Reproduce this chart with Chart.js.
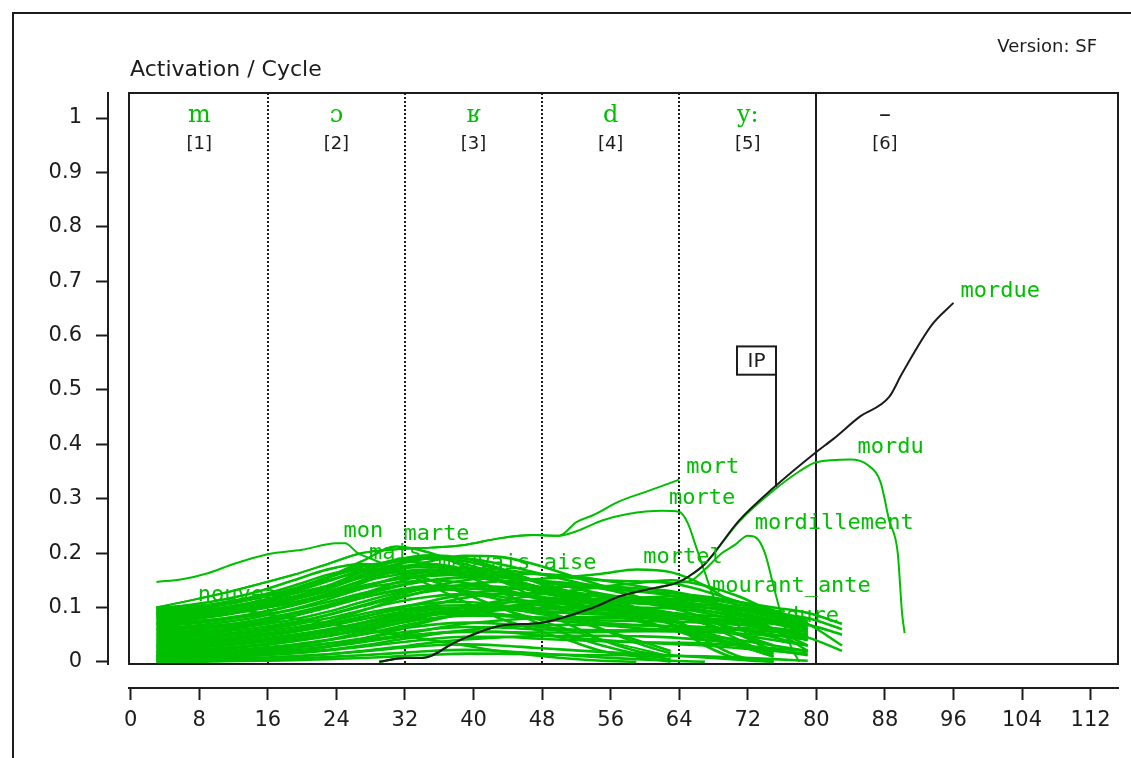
<!DOCTYPE html>
<html><head><meta charset="utf-8">
<script src="https://cdn.jsdelivr.net/npm/chart.js@4.4.0/dist/chart.umd.min.js"></script>
<style>html,body{margin:0;padding:0;background:#fff;}canvas{display:block;}</style>
</head><body>
<canvas id="c" width="1131" height="758"></canvas>
<script>
// ---------- text ----------
const axisTitle = 'Activation / Cycle';
const versionText = 'Version: SF';
const phonemes = ['m', 'ɔ', 'ʁ', 'd', 'y:', '–'];
const phonemeSlots = ['[1]', '[2]', '[3]', '[4]', '[5]', '[6]'];
const phonemeCenters = [8, 24, 40, 56, 72, 88];
const phonemeBounds = [16, 32, 48, 64, 80];
const boundDotted = [true, true, true, true, false];
const xTicks = [0, 8, 16, 24, 32, 40, 48, 56, 64, 72, 80, 88, 96, 104, 112];
const xTickLabels = ['0','8','16','24','32','40','48','56','64','72','80','88','96','104','112'];
const yTicks = [0, 0.1, 0.2, 0.3, 0.4, 0.5, 0.6, 0.7, 0.8, 0.9, 1];
const yTickLabels = ['0','0.1','0.2','0.3','0.4','0.5','0.6','0.7','0.8','0.9','1'];
// IP marker
const ipCycle = 75.3, ipBoxTop = 0.58, ipBoxBottom = 0.528, ipLineEnd = 0.322;

// ---------- shared cycles for the competitor mass ----------
const cycles = [3, 7, 11, 15, 19, 23, 27, 31, 35, 39, 43, 47, 51, 55, 59, 63, 67, 71, 75, 79, 83];

const a1 = [0.098,0.105,0.115,0.13,0.15,0.17,0.18,0.17,0.14,0.11,0.08,0.06,0.04,0.02,0.01,0];
const a2 = [0.095,0.1,0.11,0.122,0.14,0.16,0.175,0.185,0.18,0.16,0.13,0.1,0.07,0.04,0.02,0.01];
const a3 = [0.092,0.098,0.105,0.118,0.132,0.15,0.165,0.175,0.178,0.17,0.16,0.15,0.14,0.12,0.1,0.08,0.05,0.03,0.01];
const a4 = [0.09,0.095,0.1,0.11,0.125,0.14,0.155,0.165,0.17,0.165,0.158,0.15,0.145,0.14,0.135,0.13,0.115,0.09,0.06,0.03];
const a5 = [0.087,0.09,0.097,0.107,0.12,0.138,0.16,0.178,0.19,0.185,0.17,0.15,0.125,0.1,0.08,0.06,0.04];
const a6 = [0.085,0.088,0.094,0.103,0.115,0.13,0.148,0.16,0.168,0.172,0.17,0.162,0.155,0.15,0.148,0.145,0.13,0.11,0.09,0.07];
const a7 = [0.082,0.086,0.09,0.1,0.11,0.125,0.14,0.152,0.158,0.16,0.156,0.15,0.142,0.135,0.13,0.126,0.12,0.11,0.1,0.09,0.07];
const a8 = [0.08,0.083,0.088,0.097,0.108,0.12,0.135,0.145,0.15,0.145,0.135,0.12,0.108,0.1,0.095,0.09,0.085,0.08,0.07,0.055];
const b1 = [0.065,0.07,0.078,0.09,0.105,0.125,0.15,0.17,0.175,0.16,0.13,0.1,0.08,0.06,0.04,0.02];
const b2 = [0.062,0.066,0.073,0.083,0.097,0.115,0.135,0.155,0.165,0.16,0.15,0.14,0.13,0.12,0.11,0.1,0.09,0.075,0.06];
const b3 = [0.058,0.062,0.068,0.078,0.09,0.105,0.122,0.138,0.15,0.155,0.15,0.14,0.125,0.11,0.1,0.09,0.075,0.06,0.045,0.03];
const b4 = [0.055,0.058,0.064,0.073,0.085,0.1,0.118,0.132,0.14,0.14,0.13,0.118,0.105,0.1,0.098,0.1,0.105,0.1,0.09,0.08];
const b5 = [0.052,0.055,0.06,0.068,0.078,0.092,0.11,0.126,0.136,0.14,0.138,0.132,0.125,0.12,0.118,0.115,0.11,0.1,0.085,0.07];
const b6 = [0.048,0.051,0.056,0.063,0.073,0.086,0.102,0.118,0.13,0.135,0.13,0.12,0.105,0.09,0.075,0.06,0.045,0.03,0.015];
const b7 = [0.045,0.048,0.052,0.059,0.068,0.08,0.095,0.11,0.12,0.125,0.125,0.12,0.115,0.11,0.108,0.105,0.1,0.095,0.088,0.08,0.06];
const b8 = [0.042,0.045,0.049,0.055,0.063,0.074,0.088,0.1,0.108,0.11,0.105,0.095,0.09,0.088,0.087,0.085,0.08,0.07,0.06,0.05];
const b9 = [0.038,0.041,0.045,0.051,0.059,0.07,0.083,0.095,0.102,0.104,0.1,0.09,0.08,0.072,0.068,0.065,0.06,0.05,0.04,0.03];
const b10 = [0.035,0.038,0.042,0.048,0.056,0.066,0.078,0.09,0.098,0.1,0.097,0.093,0.09,0.087,0.085,0.083,0.08,0.075,0.07,0.065];
const c1 = [0.028,0.03,0.034,0.04,0.048,0.058,0.07,0.082,0.09,0.092,0.088,0.082,0.078,0.076,0.075,0.074,0.072,0.068,0.062,0.055];
const c2 = [0.024,0.026,0.03,0.036,0.044,0.054,0.066,0.078,0.086,0.088,0.085,0.08,0.074,0.068,0.062,0.058,0.05,0.04,0.03,0.02];
const c3 = [0.02,0.022,0.026,0.031,0.038,0.047,0.058,0.07,0.08,0.085,0.085,0.082,0.08,0.08,0.08,0.079,0.078,0.076,0.072,0.068,0.05];
const c4 = [0.016,0.018,0.021,0.026,0.032,0.04,0.05,0.06,0.068,0.072,0.07,0.065,0.06,0.058,0.057,0.056,0.055,0.052,0.048,0.045];
const c5 = [0.012,0.014,0.017,0.021,0.027,0.034,0.043,0.053,0.06,0.064,0.063,0.06,0.058,0.057,0.058,0.06,0.062,0.06,0.055,0.05];
const c6 = [0.008,0.01,0.013,0.017,0.022,0.028,0.036,0.045,0.052,0.056,0.055,0.05,0.045,0.04,0.036,0.033,0.03,0.025,0.02,0.015];
const c7 = [0.005,0.007,0.009,0.012,0.016,0.021,0.028,0.035,0.042,0.046,0.046,0.043,0.04,0.038,0.036,0.035,0.034,0.03,0.025,0.02];
const c8 = [0.002,0.003,0.005,0.007,0.01,0.014,0.019,0.025,0.03,0.032,0.03,0.026,0.022,0.018,0.015,0.012,0.008,0.004,0.001];
const c9 = [0.001,0.002,0.003,0.004,0.006,0.009,0.012,0.016,0.02,0.022,0.02,0.016,0.012,0.008,0.005,0.002,0];
const c10 = [0,0,0.001,0.002,0.003,0.005,0.007,0.01,0.013,0.015,0.015,0.014,0.013,0.012,0.012,0.011,0.01,0.008,0.005,0.002];
const d1 = [0.01,0.012,0.015,0.02,0.028,0.04,0.055,0.07,0.085,0.1,0.112,0.122,0.13,0.138,0.145,0.15,0.14,0.12,0.09,0.06];
const d2 = [0.005,0.006,0.008,0.012,0.018,0.028,0.042,0.058,0.075,0.09,0.1,0.108,0.112,0.116,0.118,0.12,0.115,0.105,0.09,0.075];
const e3 = [0.075,0.08,0.088,0.1,0.116,0.135,0.158,0.18,0.19,0.19,0.18,0.165,0.15,0.135,0.12,0.1,0.08,0.05,0.02];
const e4 = [0.07,0.073,0.08,0.09,0.104,0.122,0.145,0.168,0.185,0.195,0.193,0.18,0.16,0.14,0.12,0.1];
const f1 = [0.03,0.032,0.036,0.042,0.05,0.06,0.072,0.085,0.095,0.1,0.1,0.098,0.095,0.09,0.085,0.07,0.03,0.005,0];
const f2 = [0.06,0.063,0.068,0.076,0.088,0.102,0.118,0.13,0.135,0.13,0.12,0.11,0.1,0.095,0.09,0.08,0.04,0.01,0];
const g1 = [0.1,0.102,0.108,0.118,0.135,0.155,0.17,0.165,0.15,0.13,0.115,0.105,0.1,0.098,0.095,0.09,0.07,0.04,0.01];
const g2 = [0.072,0.078,0.086,0.098,0.114,0.134,0.156,0.174,0.18,0.17,0.15,0.13,0.118,0.112,0.108,0.104,0.095,0.08,0.06,0.04];
const g3 = [0.068,0.072,0.078,0.086,0.096,0.11,0.126,0.14,0.15,0.156,0.16,0.162,0.158,0.15,0.14,0.128,0.11,0.09,0.07];
const g4 = [0.04,0.044,0.05,0.058,0.07,0.086,0.104,0.122,0.138,0.15,0.155,0.15,0.138,0.125,0.115,0.108,0.1,0.09,0.078,0.065];
const g5 = [0.033,0.036,0.04,0.046,0.055,0.067,0.082,0.098,0.112,0.124,0.132,0.136,0.138,0.136,0.13,0.122,0.11,0.098,0.085,0.07];
const g6 = [0.026,0.028,0.032,0.038,0.046,0.057,0.072,0.088,0.104,0.118,0.125,0.126,0.124,0.12,0.116,0.112,0.105,0.095,0.082,0.068];
const g7 = [0.018,0.02,0.024,0.03,0.038,0.048,0.06,0.075,0.09,0.1,0.108,0.112,0.114,0.112,0.11,0.108,0.1,0.088,0.074,0.06];
const g8 = [0.014,0.016,0.019,0.024,0.031,0.04,0.051,0.064,0.077,0.088,0.095,0.098,0.1,0.1,0.1,0.098,0.094,0.085,0.072,0.058];
const g9 = [0.01,0.011,0.013,0.016,0.021,0.028,0.037,0.048,0.06,0.07,0.076,0.08,0.082,0.083,0.083,0.082,0.078,0.07,0.06,0.048];
const g10 = [0.006,0.007,0.009,0.012,0.016,0.022,0.03,0.04,0.05,0.058,0.064,0.067,0.068,0.068,0.067,0.066,0.064,0.058,0.05,0.04];
const g11 = [0.003,0.004,0.005,0.007,0.01,0.014,0.02,0.027,0.035,0.041,0.045,0.047,0.048,0.048,0.047,0.045,0.04,0.032,0.022,0.012];
const g12 = [0.078,0.082,0.09,0.102,0.118,0.14,0.165,0.185,0.192,0.18,0.16,0.14,0.12,0.1,0.085,0.07,0.05,0.03,0.01];
const g13 = [0.05,0.054,0.06,0.07,0.084,0.102,0.124,0.146,0.162,0.17,0.165,0.15,0.13,0.11,0.095,0.085,0.07,0.05,0.03];
const g14 = [0.088,0.092,0.1,0.112,0.128,0.148,0.17,0.188,0.196,0.19,0.172,0.148,0.125,0.108,0.095,0.085,0.07,0.05,0.03];

// labelled words on the shared cycles
const nouveau = [0.096,0.1,0.098,0.09,0.08,0.07,0.06,0.05,0.04,0.03,0.02,0.012,0.006,0.002,0];
const mais = [0.09,0.094,0.1,0.112,0.13,0.155,0.178,0.17,0.15,0.125,0.1,0.075,0.05,0.03,0.015,0.005];
const marte = [0.085,0.09,0.098,0.11,0.13,0.155,0.185,0.212,0.2,0.175,0.15,0.12,0.09,0.06,0.035,0.015];
const mauvaisAise = [0.07,0.074,0.08,0.09,0.104,0.12,0.138,0.152,0.16,0.158,0.148,0.135,0.12,0.105,0.09,0.075,0.055,0.035,0.015];
const mortel = [0.03,0.033,0.038,0.046,0.058,0.074,0.094,0.115,0.132,0.142,0.148,0.152,0.156,0.162,0.17,0.165,0.14,0.1,0.06,0.02];
const mourantAnte = [0.02,0.022,0.026,0.032,0.04,0.05,0.062,0.075,0.086,0.095,0.1,0.104,0.108,0.11,0.113,0.115,0.117,0.11,0.095,0.07,0.03];
const mordure = [0.01,0.012,0.015,0.02,0.026,0.033,0.04,0.047,0.052,0.055,0.055,0.054,0.054,0.055,0.056,0.058,0.06,0.062,0.058,0.045,0.02];

// main words with their own cycles
const monCycles = [3,6,9,12,16,20,24,25,26.5,28,31,35,39,43,47,51,55,59,63];
const monAct = [0.147,0.152,0.163,0.18,0.198,0.206,0.218,0.218,0.2,0.19,0.17,0.15,0.125,0.1,0.08,0.06,0.04,0.025,0.01];
const mortCycles = [3,7,11,15,19,23,27,31,35,39,43,47,50,52,54,57,60,64];
const mortAct = [0.1,0.113,0.127,0.143,0.16,0.18,0.2,0.207,0.21,0.215,0.227,0.233,0.232,0.257,0.27,0.295,0.312,0.335];
const morteCycles = [3,7,11,15,19,23,27,31,35,39,43,47,50,52,55,58,62,64,65,66,67,68,70,72,74];
const morteAct = [0.1,0.113,0.127,0.143,0.16,0.18,0.2,0.207,0.21,0.215,0.227,0.233,0.232,0.24,0.26,0.272,0.278,0.276,0.255,0.21,0.164,0.12,0.08,0.05,0.02];
const mordillementCycles = [29,32,34,38,43,48,54,57,60,64,65.5,67,69,70.5,72,73,74,75,76,77,78];
const mordillementAct = [0,0.007,0.007,0.037,0.066,0.072,0.1,0.12,0.132,0.145,0.15,0.17,0.2,0.215,0.232,0.228,0.2,0.14,0.08,0.03,0];
const morduCycles = [29,32,34,38,43,48,54,57,60,64,65,67,71,75,78,80,84,86,87.5,88.5,89.5,90,90.3];
const morduAct = [0,0.007,0.007,0.037,0.066,0.072,0.1,0.12,0.132,0.147,0.156,0.18,0.258,0.315,0.35,0.367,0.372,0.362,0.33,0.26,0.2,0.09,0.053];
const mordueCycles = [29,32,34,38,43,48,54,57,60,64,65,67,71,75,80,82,85,88.5,90,93.5,96];
const mordueAct = [0,0.007,0.007,0.037,0.066,0.072,0.1,0.12,0.132,0.147,0.156,0.18,0.26,0.32,0.386,0.41,0.45,0.487,0.53,0.62,0.66];

const massSeries = [a1,a2,a3,a4,a5,a6,a7,a8,b1,b2,b3,b4,b5,b6,b7,b8,b9,b10,c1,c2,c3,c4,c5,c6,c7,c8,c9,c10,d1,d2,e3,e4,f1,f2,
  g1,g2,g3,g4,g5,g6,g7,g8,g9,g10,g11,g12,g13,g14];
const sharedLabelled = [
  ['nouveau', nouveau], ['mais', mais], ['marte', marte], ['mauvais_aise', mauvaisAise],
  ['mortel', mortel], ['mourant_ante', mourantAnte], ['mordure', mordure]
];
const ownLabelled = [
  ['mon', monCycles, monAct], ['mort', mortCycles, mortAct], ['morte', morteCycles, morteAct],
  ['mordillement', mordillementCycles, mordillementAct], ['mordu', morduCycles, morduAct]
];

const GREEN = 'rgb(0,190,0)';
const INK = '#1c1c1c';

function pts(xs, ys) {
  const out = [];
  ys.forEach((v, i) => { if (v !== null && v !== undefined) out.push({x: xs[i], y: v}); });
  return out;
}
function ds(data, color, label, showLabel, order, width) {
  return { data, label, showLabel, borderColor: color, borderWidth: width, pointRadius: 0,
    cubicInterpolationMode: 'monotone', fill: false, xAxisID: 'x', yAxisID: 'y', order };
}

const datasets = [];
datasets.push(ds(pts(mordueCycles, mordueAct), INK, 'mordue', true, -1, 2));
ownLabelled.forEach(([w, xs, ys]) => datasets.push(ds(pts(xs, ys), GREEN, w, true, 1, 2)));
sharedLabelled.forEach(([w, ys]) => datasets.push(ds(pts(cycles, ys), GREEN, w, true, 2, 2.5)));
massSeries.forEach((ys, i) => datasets.push(ds(pts(cycles, ys), GREEN, 'w' + i, false, 3, 2.6)));

const overlay = {
  id: 'overlay',
  beforeDraw(chart) {
    const ctx = chart.ctx;
    ctx.save();
    ctx.fillStyle = '#fff';
    ctx.fillRect(0, 0, chart.width, chart.height);
    ctx.strokeStyle = INK; ctx.lineWidth = 2;
    ctx.beginPath(); ctx.moveTo(13, chart.height); ctx.lineTo(13, 13); ctx.lineTo(chart.width, 13); ctx.stroke();
    ctx.fillStyle = INK; ctx.textAlign = 'left'; ctx.textBaseline = 'alphabetic';
    ctx.font = '22px "DejaVu Sans"';
    ctx.fillText(axisTitle, 130, 76);
    ctx.font = '18px "DejaVu Sans"'; ctx.textAlign = 'right';
    ctx.fillText(versionText, 1097, 52);
    ctx.restore();
  },
  beforeDatasetsDraw(chart) {
    const {ctx, chartArea: a, scales: {x}} = chart;
    ctx.save();
    ctx.strokeStyle = INK; ctx.lineWidth = 2;
    phonemeBounds.forEach((b, i) => {
      const px = Math.round(x.getPixelForValue(b));
      ctx.setLineDash(boundDotted[i] ? [2, 2] : []);
      ctx.beginPath(); ctx.moveTo(px, a.top); ctx.lineTo(px, a.bottom); ctx.stroke();
    });
    ctx.restore();
  },
  afterDatasetsDraw(chart) {
    const {ctx, chartArea: a, scales: {x, y}} = chart;
    ctx.save();
    // word labels at each labelled word's peak
    ctx.font = '22px "DejaVu Sans Mono"';
    ctx.textAlign = 'left'; ctx.textBaseline = 'middle';
    chart.data.datasets.forEach((d, di) => {
      if (!d.showLabel) return;
      let best = 0;
      d.data.forEach((p, i) => { if (p.y > d.data[best].y) best = i; });
      const el = chart.getDatasetMeta(di).data[best];
      ctx.fillStyle = GREEN;
      ctx.fillText(d.label, el.x + 7, el.y - 12);
    });
    // phoneme header
    const rowY = y.getPixelForValue(1);
    phonemes.forEach((p, i) => {
      const px = x.getPixelForValue(phonemeCenters[i]);
      ctx.textAlign = 'center'; ctx.textBaseline = 'middle';
      ctx.fillStyle = (p === '–') ? INK : GREEN;
      ctx.font = (p === '–') ? '24px "DejaVu Sans"' : '24px "DejaVu Serif"';
      ctx.fillText(p, px, rowY - 2);
      ctx.fillStyle = INK; ctx.font = '18px "DejaVu Sans"';
      ctx.fillText(phonemeSlots[i], px, rowY + 26);
    });
    // IP marker
    const ix = Math.round(x.getPixelForValue(ipCycle));
    const bt = y.getPixelForValue(ipBoxTop), bb = y.getPixelForValue(ipBoxBottom), le = y.getPixelForValue(ipLineEnd);
    ctx.strokeStyle = INK; ctx.lineWidth = 2;
    ctx.fillStyle = '#fff'; ctx.fillRect(ix - 39, bt, 39, bb - bt);
    ctx.strokeRect(ix - 39, bt, 39, bb - bt);
    ctx.beginPath(); ctx.moveTo(ix, bb); ctx.lineTo(ix, le); ctx.stroke();
    ctx.fillStyle = INK; ctx.font = '20px "DejaVu Sans"'; ctx.textAlign = 'center'; ctx.textBaseline = 'middle';
    ctx.fillText('IP', ix - 19.5, (bt + bb) / 2 + 1);
    // plot frame
    ctx.strokeStyle = INK; ctx.lineWidth = 2;
    ctx.strokeRect(a.left, a.top, a.right - a.left, a.bottom - a.top);
    ctx.restore();
  }
};

new Chart(document.getElementById('c'), {
  type: 'line',
  data: { datasets },
  options: {
    responsive: false, animation: false, devicePixelRatio: 1,
    layout: { padding: { left: 12, top: 93, right: 13, bottom: 0 } },
    plugins: { legend: { display: false }, tooltip: { enabled: false }, title: { display: false } },
    scales: {
      x: {
        type: 'linear', position: 'bottom', weight: 1, min: -0.2, max: 115.2,
        afterBuildTicks: s => { s.ticks = xTicks.map(v => ({ value: v })); },
        afterFit: s => { s.height = 70; },
        ticks: { color: INK, font: { family: 'DejaVu Sans', size: 21 }, padding: 8, maxRotation: 0, autoSkip: false,
          callback: (v, i) => xTickLabels[i] },
        grid: { drawOnChartArea: false, drawTicks: true, tickLength: 12, tickColor: INK, tickWidth: 2, color: INK },
        border: { display: true, color: INK, width: 2 }
      },
      xSpacer: {
        type: 'linear', position: 'bottom', weight: 0,
        ticks: { display: false }, grid: { display: false }, border: { display: false },
        afterFit: s => { s.height = 24; }
      },
      y: {
        type: 'linear', position: 'left', weight: 1, min: -0.004, max: 1.046,
        afterBuildTicks: s => { s.ticks = yTicks.map(v => ({ value: v })); },
        afterFit: s => { s.width = 96; },
        ticks: { color: INK, font: { family: 'DejaVu Sans', size: 21 }, padding: 14,
          callback: (v, i) => yTickLabels[i] },
        grid: { drawOnChartArea: false, drawTicks: true, tickLength: 12, tickColor: INK, tickWidth: 2, color: INK },
        border: { display: true, color: INK, width: 2 }
      },
      ySpacer: {
        type: 'linear', position: 'left', weight: 0,
        ticks: { display: false }, grid: { display: false }, border: { display: false },
        afterFit: s => { s.width = 21; }
      }
    }
  },
  plugins: [overlay]
});
</script>
</body></html>
